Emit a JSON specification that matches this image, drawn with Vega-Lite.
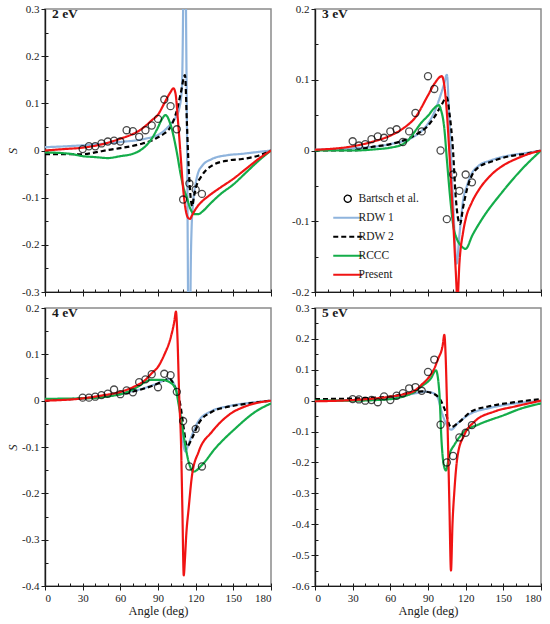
{
  "$schema": "https://vega.github.io/schema/vega-lite/v6.json",
  "padding": {"left": 5, "top": 2, "right": 5, "bottom": 4},
  "config": {
    "font": "Liberation Serif",
    "background": "white",
    "view": {"stroke": "#8a8a8a", "strokeWidth": 1.5},
    "axis": {
      "grid": false,
      "domain": true,
      "domainColor": "#1a1a1a",
      "domainWidth": 1.2,
      "labelFont": "Liberation Serif",
      "titleFont": "Liberation Serif",
      "labelFontSize": 11,
      "labelColor": "#1a1a1a",
      "tickColor": "#1a1a1a",
      "labelPadding": 2,
      "titleFontSize": 12.5,
      "titleFontWeight": "normal",
      "titleColor": "#1a1a1a"
    },
    "title": {"font": "Liberation Serif", "fontSize": 13.5, "fontWeight": "bold", "color": "#1a1a1a"}
  },
  "datasets": {
    "curves": [
      {"panel": "2 eV", "series": "RDW 1", "angle": 0, "S": 0.007},
      {"panel": "2 eV", "series": "RDW 1", "angle": 30, "S": 0.011},
      {"panel": "2 eV", "series": "RDW 1", "angle": 60, "S": 0.018},
      {"panel": "2 eV", "series": "RDW 1", "angle": 80, "S": 0.025},
      {"panel": "2 eV", "series": "RDW 1", "angle": 90, "S": 0.033},
      {"panel": "2 eV", "series": "RDW 1", "angle": 95, "S": 0.042},
      {"panel": "2 eV", "series": "RDW 1", "angle": 100, "S": 0.056},
      {"panel": "2 eV", "series": "RDW 1", "angle": 104, "S": 0.07},
      {"panel": "2 eV", "series": "RDW 1", "angle": 107, "S": 0.09},
      {"panel": "2 eV", "series": "RDW 1", "angle": 109, "S": 0.13},
      {"panel": "2 eV", "series": "RDW 1", "angle": 110, "S": 0.3},
      {"panel": "2 eV", "series": "RDW 1", "angle": 110.8, "S": 0.6},
      {"panel": "2 eV", "series": "RDW 1", "angle": 111.6, "S": 0.6},
      {"panel": "2 eV", "series": "RDW 1", "angle": 112.3, "S": 0.3},
      {"panel": "2 eV", "series": "RDW 1", "angle": 113.2, "S": 0},
      {"panel": "2 eV", "series": "RDW 1", "angle": 113.9, "S": -0.3},
      {"panel": "2 eV", "series": "RDW 1", "angle": 114.5, "S": -0.6},
      {"panel": "2 eV", "series": "RDW 1", "angle": 115.3, "S": -0.6},
      {"panel": "2 eV", "series": "RDW 1", "angle": 115.9, "S": -0.3},
      {"panel": "2 eV", "series": "RDW 1", "angle": 116.7, "S": -0.17},
      {"panel": "2 eV", "series": "RDW 1", "angle": 118, "S": -0.11},
      {"panel": "2 eV", "series": "RDW 1", "angle": 120, "S": -0.07},
      {"panel": "2 eV", "series": "RDW 1", "angle": 122, "S": -0.047},
      {"panel": "2 eV", "series": "RDW 1", "angle": 125, "S": -0.033},
      {"panel": "2 eV", "series": "RDW 1", "angle": 133, "S": -0.018},
      {"panel": "2 eV", "series": "RDW 1", "angle": 145, "S": -0.01},
      {"panel": "2 eV", "series": "RDW 1", "angle": 157, "S": -0.007},
      {"panel": "2 eV", "series": "RDW 1", "angle": 170, "S": -0.003},
      {"panel": "2 eV", "series": "RDW 1", "angle": 180, "S": 0},
      {"panel": "2 eV", "series": "RDW 2", "angle": 0, "S": -0.008},
      {"panel": "2 eV", "series": "RDW 2", "angle": 30, "S": -0.008},
      {"panel": "2 eV", "series": "RDW 2", "angle": 40, "S": -0.004},
      {"panel": "2 eV", "series": "RDW 2", "angle": 50, "S": 0.001},
      {"panel": "2 eV", "series": "RDW 2", "angle": 60, "S": 0.005},
      {"panel": "2 eV", "series": "RDW 2", "angle": 75, "S": 0.013},
      {"panel": "2 eV", "series": "RDW 2", "angle": 85, "S": 0.021},
      {"panel": "2 eV", "series": "RDW 2", "angle": 90, "S": 0.028},
      {"panel": "2 eV", "series": "RDW 2", "angle": 95, "S": 0.036},
      {"panel": "2 eV", "series": "RDW 2", "angle": 100, "S": 0.05},
      {"panel": "2 eV", "series": "RDW 2", "angle": 105, "S": 0.085},
      {"panel": "2 eV", "series": "RDW 2", "angle": 108, "S": 0.12},
      {"panel": "2 eV", "series": "RDW 2", "angle": 111.5, "S": 0.16},
      {"panel": "2 eV", "series": "RDW 2", "angle": 113, "S": 0.06},
      {"panel": "2 eV", "series": "RDW 2", "angle": 114.5, "S": -0.04},
      {"panel": "2 eV", "series": "RDW 2", "angle": 116, "S": -0.1},
      {"panel": "2 eV", "series": "RDW 2", "angle": 117.3, "S": -0.118},
      {"panel": "2 eV", "series": "RDW 2", "angle": 118.5, "S": -0.1},
      {"panel": "2 eV", "series": "RDW 2", "angle": 120, "S": -0.081},
      {"panel": "2 eV", "series": "RDW 2", "angle": 125, "S": -0.053},
      {"panel": "2 eV", "series": "RDW 2", "angle": 133, "S": -0.032},
      {"panel": "2 eV", "series": "RDW 2", "angle": 146, "S": -0.021},
      {"panel": "2 eV", "series": "RDW 2", "angle": 157, "S": -0.018},
      {"panel": "2 eV", "series": "RDW 2", "angle": 170, "S": -0.011},
      {"panel": "2 eV", "series": "RDW 2", "angle": 180, "S": 0},
      {"panel": "2 eV", "series": "RCCC", "angle": 0, "S": -0.004},
      {"panel": "2 eV", "series": "RCCC", "angle": 20, "S": -0.007},
      {"panel": "2 eV", "series": "RCCC", "angle": 30, "S": -0.012},
      {"panel": "2 eV", "series": "RCCC", "angle": 40, "S": -0.014},
      {"panel": "2 eV", "series": "RCCC", "angle": 50, "S": -0.016},
      {"panel": "2 eV", "series": "RCCC", "angle": 60, "S": -0.012},
      {"panel": "2 eV", "series": "RCCC", "angle": 70, "S": -0.007},
      {"panel": "2 eV", "series": "RCCC", "angle": 75, "S": -0.001},
      {"panel": "2 eV", "series": "RCCC", "angle": 80, "S": 0.009},
      {"panel": "2 eV", "series": "RCCC", "angle": 85, "S": 0.025},
      {"panel": "2 eV", "series": "RCCC", "angle": 90, "S": 0.049},
      {"panel": "2 eV", "series": "RCCC", "angle": 93, "S": 0.066},
      {"panel": "2 eV", "series": "RCCC", "angle": 96, "S": 0.075},
      {"panel": "2 eV", "series": "RCCC", "angle": 100, "S": 0.055},
      {"panel": "2 eV", "series": "RCCC", "angle": 105, "S": -0.004},
      {"panel": "2 eV", "series": "RCCC", "angle": 108, "S": -0.05},
      {"panel": "2 eV", "series": "RCCC", "angle": 110, "S": -0.075},
      {"panel": "2 eV", "series": "RCCC", "angle": 113, "S": -0.1},
      {"panel": "2 eV", "series": "RCCC", "angle": 116, "S": -0.125},
      {"panel": "2 eV", "series": "RCCC", "angle": 119, "S": -0.135},
      {"panel": "2 eV", "series": "RCCC", "angle": 122, "S": -0.135},
      {"panel": "2 eV", "series": "RCCC", "angle": 126, "S": -0.128},
      {"panel": "2 eV", "series": "RCCC", "angle": 130, "S": -0.117},
      {"panel": "2 eV", "series": "RCCC", "angle": 140, "S": -0.092},
      {"panel": "2 eV", "series": "RCCC", "angle": 150, "S": -0.072},
      {"panel": "2 eV", "series": "RCCC", "angle": 160, "S": -0.047},
      {"panel": "2 eV", "series": "RCCC", "angle": 170, "S": -0.022},
      {"panel": "2 eV", "series": "RCCC", "angle": 180, "S": 0},
      {"panel": "2 eV", "series": "Present", "angle": 0, "S": 0},
      {"panel": "2 eV", "series": "Present", "angle": 15, "S": 0.003},
      {"panel": "2 eV", "series": "Present", "angle": 30, "S": 0.006},
      {"panel": "2 eV", "series": "Present", "angle": 45, "S": 0.013},
      {"panel": "2 eV", "series": "Present", "angle": 60, "S": 0.025},
      {"panel": "2 eV", "series": "Present", "angle": 70, "S": 0.035},
      {"panel": "2 eV", "series": "Present", "angle": 75, "S": 0.042},
      {"panel": "2 eV", "series": "Present", "angle": 80, "S": 0.052},
      {"panel": "2 eV", "series": "Present", "angle": 85, "S": 0.064},
      {"panel": "2 eV", "series": "Present", "angle": 90, "S": 0.076},
      {"panel": "2 eV", "series": "Present", "angle": 95, "S": 0.1},
      {"panel": "2 eV", "series": "Present", "angle": 100, "S": 0.124},
      {"panel": "2 eV", "series": "Present", "angle": 102.3, "S": 0.132},
      {"panel": "2 eV", "series": "Present", "angle": 104, "S": 0.12},
      {"panel": "2 eV", "series": "Present", "angle": 106, "S": 0.06},
      {"panel": "2 eV", "series": "Present", "angle": 108, "S": -0.01},
      {"panel": "2 eV", "series": "Present", "angle": 110, "S": -0.08},
      {"panel": "2 eV", "series": "Present", "angle": 112, "S": -0.125},
      {"panel": "2 eV", "series": "Present", "angle": 114, "S": -0.143},
      {"panel": "2 eV", "series": "Present", "angle": 115.5, "S": -0.145},
      {"panel": "2 eV", "series": "Present", "angle": 117, "S": -0.138},
      {"panel": "2 eV", "series": "Present", "angle": 120, "S": -0.124},
      {"panel": "2 eV", "series": "Present", "angle": 125, "S": -0.108},
      {"panel": "2 eV", "series": "Present", "angle": 130, "S": -0.097},
      {"panel": "2 eV", "series": "Present", "angle": 140, "S": -0.078},
      {"panel": "2 eV", "series": "Present", "angle": 150, "S": -0.06},
      {"panel": "2 eV", "series": "Present", "angle": 160, "S": -0.039},
      {"panel": "2 eV", "series": "Present", "angle": 170, "S": -0.018},
      {"panel": "2 eV", "series": "Present", "angle": 180, "S": 0},

      {"panel": "3 eV", "series": "RDW 1", "angle": 0, "S": 0.001},
      {"panel": "3 eV", "series": "RDW 1", "angle": 30, "S": 0.003},
      {"panel": "3 eV", "series": "RDW 1", "angle": 60, "S": 0.009},
      {"panel": "3 eV", "series": "RDW 1", "angle": 80, "S": 0.021},
      {"panel": "3 eV", "series": "RDW 1", "angle": 90, "S": 0.038},
      {"panel": "3 eV", "series": "RDW 1", "angle": 95, "S": 0.054},
      {"panel": "3 eV", "series": "RDW 1", "angle": 100, "S": 0.078},
      {"panel": "3 eV", "series": "RDW 1", "angle": 103, "S": 0.095},
      {"panel": "3 eV", "series": "RDW 1", "angle": 105, "S": 0.107},
      {"panel": "3 eV", "series": "RDW 1", "angle": 107, "S": 0.045},
      {"panel": "3 eV", "series": "RDW 1", "angle": 110, "S": -0.073},
      {"panel": "3 eV", "series": "RDW 1", "angle": 112.8, "S": -0.16},
      {"panel": "3 eV", "series": "RDW 1", "angle": 115, "S": -0.12},
      {"panel": "3 eV", "series": "RDW 1", "angle": 118, "S": -0.07},
      {"panel": "3 eV", "series": "RDW 1", "angle": 121, "S": -0.05},
      {"panel": "3 eV", "series": "RDW 1", "angle": 125, "S": -0.032},
      {"panel": "3 eV", "series": "RDW 1", "angle": 130, "S": -0.022},
      {"panel": "3 eV", "series": "RDW 1", "angle": 140, "S": -0.014},
      {"panel": "3 eV", "series": "RDW 1", "angle": 155, "S": -0.007},
      {"panel": "3 eV", "series": "RDW 1", "angle": 170, "S": -0.003},
      {"panel": "3 eV", "series": "RDW 1", "angle": 180, "S": 0},
      {"panel": "3 eV", "series": "RDW 2", "angle": 0, "S": 0},
      {"panel": "3 eV", "series": "RDW 2", "angle": 30, "S": 0},
      {"panel": "3 eV", "series": "RDW 2", "angle": 45, "S": 0.005},
      {"panel": "3 eV", "series": "RDW 2", "angle": 60, "S": 0.009},
      {"panel": "3 eV", "series": "RDW 2", "angle": 70, "S": 0.014},
      {"panel": "3 eV", "series": "RDW 2", "angle": 80, "S": 0.022},
      {"panel": "3 eV", "series": "RDW 2", "angle": 90, "S": 0.035},
      {"panel": "3 eV", "series": "RDW 2", "angle": 95, "S": 0.047},
      {"panel": "3 eV", "series": "RDW 2", "angle": 100, "S": 0.062},
      {"panel": "3 eV", "series": "RDW 2", "angle": 105, "S": 0.075},
      {"panel": "3 eV", "series": "RDW 2", "angle": 107, "S": 0.054},
      {"panel": "3 eV", "series": "RDW 2", "angle": 110, "S": -0.002},
      {"panel": "3 eV", "series": "RDW 2", "angle": 112, "S": -0.064},
      {"panel": "3 eV", "series": "RDW 2", "angle": 115.5, "S": -0.104},
      {"panel": "3 eV", "series": "RDW 2", "angle": 118, "S": -0.08},
      {"panel": "3 eV", "series": "RDW 2", "angle": 121, "S": -0.055},
      {"panel": "3 eV", "series": "RDW 2", "angle": 125, "S": -0.035},
      {"panel": "3 eV", "series": "RDW 2", "angle": 130, "S": -0.024},
      {"panel": "3 eV", "series": "RDW 2", "angle": 140, "S": -0.016},
      {"panel": "3 eV", "series": "RDW 2", "angle": 155, "S": -0.008},
      {"panel": "3 eV", "series": "RDW 2", "angle": 170, "S": -0.004},
      {"panel": "3 eV", "series": "RDW 2", "angle": 180, "S": 0},
      {"panel": "3 eV", "series": "RCCC", "angle": 0, "S": 0},
      {"panel": "3 eV", "series": "RCCC", "angle": 30, "S": 0},
      {"panel": "3 eV", "series": "RCCC", "angle": 50, "S": 0.002},
      {"panel": "3 eV", "series": "RCCC", "angle": 60, "S": 0.004},
      {"panel": "3 eV", "series": "RCCC", "angle": 70, "S": 0.009},
      {"panel": "3 eV", "series": "RCCC", "angle": 75, "S": 0.016},
      {"panel": "3 eV", "series": "RCCC", "angle": 80, "S": 0.028},
      {"panel": "3 eV", "series": "RCCC", "angle": 85, "S": 0.04},
      {"panel": "3 eV", "series": "RCCC", "angle": 90, "S": 0.049},
      {"panel": "3 eV", "series": "RCCC", "angle": 95, "S": 0.06},
      {"panel": "3 eV", "series": "RCCC", "angle": 98.7, "S": 0.064},
      {"panel": "3 eV", "series": "RCCC", "angle": 100, "S": 0.059},
      {"panel": "3 eV", "series": "RCCC", "angle": 103, "S": 0.031},
      {"panel": "3 eV", "series": "RCCC", "angle": 105, "S": -0.012},
      {"panel": "3 eV", "series": "RCCC", "angle": 108, "S": -0.073},
      {"panel": "3 eV", "series": "RCCC", "angle": 110, "S": -0.105},
      {"panel": "3 eV", "series": "RCCC", "angle": 113, "S": -0.125},
      {"panel": "3 eV", "series": "RCCC", "angle": 116, "S": -0.134},
      {"panel": "3 eV", "series": "RCCC", "angle": 120, "S": -0.139},
      {"panel": "3 eV", "series": "RCCC", "angle": 125.3, "S": -0.12},
      {"panel": "3 eV", "series": "RCCC", "angle": 133, "S": -0.097},
      {"panel": "3 eV", "series": "RCCC", "angle": 149, "S": -0.059},
      {"panel": "3 eV", "series": "RCCC", "angle": 165, "S": -0.026},
      {"panel": "3 eV", "series": "RCCC", "angle": 180, "S": 0},
      {"panel": "3 eV", "series": "Present", "angle": 0, "S": 0.001},
      {"panel": "3 eV", "series": "Present", "angle": 30, "S": 0.006},
      {"panel": "3 eV", "series": "Present", "angle": 45, "S": 0.012},
      {"panel": "3 eV", "series": "Present", "angle": 60, "S": 0.021},
      {"panel": "3 eV", "series": "Present", "angle": 70, "S": 0.031},
      {"panel": "3 eV", "series": "Present", "angle": 80, "S": 0.047},
      {"panel": "3 eV", "series": "Present", "angle": 90, "S": 0.078},
      {"panel": "3 eV", "series": "Present", "angle": 95, "S": 0.094},
      {"panel": "3 eV", "series": "Present", "angle": 101, "S": 0.105},
      {"panel": "3 eV", "series": "Present", "angle": 103, "S": 0.092},
      {"panel": "3 eV", "series": "Present", "angle": 105, "S": 0.054},
      {"panel": "3 eV", "series": "Present", "angle": 107, "S": -0.002},
      {"panel": "3 eV", "series": "Present", "angle": 110, "S": -0.097},
      {"panel": "3 eV", "series": "Present", "angle": 112, "S": -0.167},
      {"panel": "3 eV", "series": "Present", "angle": 113.5, "S": -0.21},
      {"panel": "3 eV", "series": "Present", "angle": 115, "S": -0.16},
      {"panel": "3 eV", "series": "Present", "angle": 118, "S": -0.115},
      {"panel": "3 eV", "series": "Present", "angle": 120, "S": -0.097},
      {"panel": "3 eV", "series": "Present", "angle": 125, "S": -0.073},
      {"panel": "3 eV", "series": "Present", "angle": 130, "S": -0.057},
      {"panel": "3 eV", "series": "Present", "angle": 140, "S": -0.035},
      {"panel": "3 eV", "series": "Present", "angle": 150, "S": -0.021},
      {"panel": "3 eV", "series": "Present", "angle": 160, "S": -0.012},
      {"panel": "3 eV", "series": "Present", "angle": 170, "S": -0.005},
      {"panel": "3 eV", "series": "Present", "angle": 180, "S": 0},

      {"panel": "4 eV", "series": "RDW 1", "angle": 0, "S": 0.002},
      {"panel": "4 eV", "series": "RDW 1", "angle": 30, "S": 0.005},
      {"panel": "4 eV", "series": "RDW 1", "angle": 60, "S": 0.015},
      {"panel": "4 eV", "series": "RDW 1", "angle": 80, "S": 0.028},
      {"panel": "4 eV", "series": "RDW 1", "angle": 90, "S": 0.038},
      {"panel": "4 eV", "series": "RDW 1", "angle": 95, "S": 0.044},
      {"panel": "4 eV", "series": "RDW 1", "angle": 99, "S": 0.047},
      {"panel": "4 eV", "series": "RDW 1", "angle": 103, "S": 0.035},
      {"panel": "4 eV", "series": "RDW 1", "angle": 105, "S": 0.02},
      {"panel": "4 eV", "series": "RDW 1", "angle": 107, "S": -0.005},
      {"panel": "4 eV", "series": "RDW 1", "angle": 109, "S": -0.06},
      {"panel": "4 eV", "series": "RDW 1", "angle": 110.5, "S": -0.1},
      {"panel": "4 eV", "series": "RDW 1", "angle": 112, "S": -0.11},
      {"panel": "4 eV", "series": "RDW 1", "angle": 113.5, "S": -0.1},
      {"panel": "4 eV", "series": "RDW 1", "angle": 117, "S": -0.075},
      {"panel": "4 eV", "series": "RDW 1", "angle": 122, "S": -0.045},
      {"panel": "4 eV", "series": "RDW 1", "angle": 133, "S": -0.022},
      {"panel": "4 eV", "series": "RDW 1", "angle": 146, "S": -0.012},
      {"panel": "4 eV", "series": "RDW 1", "angle": 162, "S": -0.005},
      {"panel": "4 eV", "series": "RDW 1", "angle": 180, "S": 0},
      {"panel": "4 eV", "series": "RDW 2", "angle": 0, "S": 0.001},
      {"panel": "4 eV", "series": "RDW 2", "angle": 30, "S": 0.005},
      {"panel": "4 eV", "series": "RDW 2", "angle": 60, "S": 0.014},
      {"panel": "4 eV", "series": "RDW 2", "angle": 80, "S": 0.027},
      {"panel": "4 eV", "series": "RDW 2", "angle": 90, "S": 0.037},
      {"panel": "4 eV", "series": "RDW 2", "angle": 95, "S": 0.044},
      {"panel": "4 eV", "series": "RDW 2", "angle": 99, "S": 0.047},
      {"panel": "4 eV", "series": "RDW 2", "angle": 103.8, "S": 0.027},
      {"panel": "4 eV", "series": "RDW 2", "angle": 107.8, "S": -0.009},
      {"panel": "4 eV", "series": "RDW 2", "angle": 110.5, "S": -0.06},
      {"panel": "4 eV", "series": "RDW 2", "angle": 113.1, "S": -0.099},
      {"panel": "4 eV", "series": "RDW 2", "angle": 117.1, "S": -0.081},
      {"panel": "4 eV", "series": "RDW 2", "angle": 122.4, "S": -0.049},
      {"panel": "4 eV", "series": "RDW 2", "angle": 133, "S": -0.024},
      {"panel": "4 eV", "series": "RDW 2", "angle": 146.3, "S": -0.013},
      {"panel": "4 eV", "series": "RDW 2", "angle": 162, "S": -0.006},
      {"panel": "4 eV", "series": "RDW 2", "angle": 180, "S": 0},
      {"panel": "4 eV", "series": "RCCC", "angle": 0, "S": 0.004},
      {"panel": "4 eV", "series": "RCCC", "angle": 30, "S": 0.005},
      {"panel": "4 eV", "series": "RCCC", "angle": 60, "S": 0.014},
      {"panel": "4 eV", "series": "RCCC", "angle": 75, "S": 0.032},
      {"panel": "4 eV", "series": "RCCC", "angle": 80, "S": 0.041},
      {"panel": "4 eV", "series": "RCCC", "angle": 85, "S": 0.045},
      {"panel": "4 eV", "series": "RCCC", "angle": 93, "S": 0.045},
      {"panel": "4 eV", "series": "RCCC", "angle": 98.5, "S": 0.041},
      {"panel": "4 eV", "series": "RCCC", "angle": 103.8, "S": 0.027},
      {"panel": "4 eV", "series": "RCCC", "angle": 106.5, "S": -0.009},
      {"panel": "4 eV", "series": "RCCC", "angle": 109.1, "S": -0.053},
      {"panel": "4 eV", "series": "RCCC", "angle": 111.7, "S": -0.096},
      {"panel": "4 eV", "series": "RCCC", "angle": 114.4, "S": -0.132},
      {"panel": "4 eV", "series": "RCCC", "angle": 118.4, "S": -0.153},
      {"panel": "4 eV", "series": "RCCC", "angle": 125, "S": -0.139},
      {"panel": "4 eV", "series": "RCCC", "angle": 135.6, "S": -0.103},
      {"panel": "4 eV", "series": "RCCC", "angle": 151.6, "S": -0.06},
      {"panel": "4 eV", "series": "RCCC", "angle": 167.5, "S": -0.024},
      {"panel": "4 eV", "series": "RCCC", "angle": 180, "S": -0.006},
      {"panel": "4 eV", "series": "Present", "angle": 0, "S": 0},
      {"panel": "4 eV", "series": "Present", "angle": 30, "S": 0.005},
      {"panel": "4 eV", "series": "Present", "angle": 45, "S": 0.011},
      {"panel": "4 eV", "series": "Present", "angle": 60, "S": 0.019},
      {"panel": "4 eV", "series": "Present", "angle": 70, "S": 0.029},
      {"panel": "4 eV", "series": "Present", "angle": 80, "S": 0.045},
      {"panel": "4 eV", "series": "Present", "angle": 85, "S": 0.059},
      {"panel": "4 eV", "series": "Present", "angle": 90, "S": 0.073},
      {"panel": "4 eV", "series": "Present", "angle": 95, "S": 0.099},
      {"panel": "4 eV", "series": "Present", "angle": 100, "S": 0.135},
      {"panel": "4 eV", "series": "Present", "angle": 103, "S": 0.171},
      {"panel": "4 eV", "series": "Present", "angle": 104.3, "S": 0.192},
      {"panel": "4 eV", "series": "Present", "angle": 105.3, "S": 0.15},
      {"panel": "4 eV", "series": "Present", "angle": 107, "S": 0},
      {"panel": "4 eV", "series": "Present", "angle": 108.3, "S": -0.088},
      {"panel": "4 eV", "series": "Present", "angle": 109.4, "S": -0.232},
      {"panel": "4 eV", "series": "Present", "angle": 110.5, "S": -0.377},
      {"panel": "4 eV", "series": "Present", "angle": 111.5, "S": -0.34},
      {"panel": "4 eV", "series": "Present", "angle": 112.5, "S": -0.29},
      {"panel": "4 eV", "series": "Present", "angle": 114.4, "S": -0.233},
      {"panel": "4 eV", "series": "Present", "angle": 117.1, "S": -0.161},
      {"panel": "4 eV", "series": "Present", "angle": 122.4, "S": -0.11},
      {"panel": "4 eV", "series": "Present", "angle": 133, "S": -0.067},
      {"panel": "4 eV", "series": "Present", "angle": 146.3, "S": -0.031},
      {"panel": "4 eV", "series": "Present", "angle": 162, "S": -0.01},
      {"panel": "4 eV", "series": "Present", "angle": 180, "S": 0},

      {"panel": "5 eV", "series": "RDW 1", "angle": 0, "S": 0},
      {"panel": "5 eV", "series": "RDW 1", "angle": 30, "S": 0.002},
      {"panel": "5 eV", "series": "RDW 1", "angle": 60, "S": 0.007},
      {"panel": "5 eV", "series": "RDW 1", "angle": 80, "S": 0.024},
      {"panel": "5 eV", "series": "RDW 1", "angle": 88, "S": 0.029},
      {"panel": "5 eV", "series": "RDW 1", "angle": 93, "S": 0.026},
      {"panel": "5 eV", "series": "RDW 1", "angle": 96, "S": 0.02},
      {"panel": "5 eV", "series": "RDW 1", "angle": 98, "S": 0.008},
      {"panel": "5 eV", "series": "RDW 1", "angle": 100.8, "S": -0.035},
      {"panel": "5 eV", "series": "RDW 1", "angle": 104.3, "S": -0.073},
      {"panel": "5 eV", "series": "RDW 1", "angle": 108.3, "S": -0.094},
      {"panel": "5 eV", "series": "RDW 1", "angle": 113.7, "S": -0.073},
      {"panel": "5 eV", "series": "RDW 1", "angle": 124.4, "S": -0.041},
      {"panel": "5 eV", "series": "RDW 1", "angle": 137.8, "S": -0.025},
      {"panel": "5 eV", "series": "RDW 1", "angle": 159, "S": -0.009},
      {"panel": "5 eV", "series": "RDW 1", "angle": 180, "S": -0.001},
      {"panel": "5 eV", "series": "RDW 2", "angle": 0, "S": 0.005},
      {"panel": "5 eV", "series": "RDW 2", "angle": 30, "S": 0.007},
      {"panel": "5 eV", "series": "RDW 2", "angle": 60, "S": 0.013},
      {"panel": "5 eV", "series": "RDW 2", "angle": 75, "S": 0.025},
      {"panel": "5 eV", "series": "RDW 2", "angle": 85, "S": 0.03},
      {"panel": "5 eV", "series": "RDW 2", "angle": 92, "S": 0.026},
      {"panel": "5 eV", "series": "RDW 2", "angle": 99, "S": 0.008},
      {"panel": "5 eV", "series": "RDW 2", "angle": 103, "S": -0.025},
      {"panel": "5 eV", "series": "RDW 2", "angle": 108.3, "S": -0.086},
      {"panel": "5 eV", "series": "RDW 2", "angle": 113.7, "S": -0.073},
      {"panel": "5 eV", "series": "RDW 2", "angle": 124.4, "S": -0.035},
      {"panel": "5 eV", "series": "RDW 2", "angle": 137.8, "S": -0.019},
      {"panel": "5 eV", "series": "RDW 2", "angle": 159, "S": -0.005},
      {"panel": "5 eV", "series": "RDW 2", "angle": 180, "S": 0.005},
      {"panel": "5 eV", "series": "RCCC", "angle": 0, "S": 0},
      {"panel": "5 eV", "series": "RCCC", "angle": 30, "S": 0},
      {"panel": "5 eV", "series": "RCCC", "angle": 60, "S": 0.005},
      {"panel": "5 eV", "series": "RCCC", "angle": 70, "S": 0.013},
      {"panel": "5 eV", "series": "RCCC", "angle": 80, "S": 0.031},
      {"panel": "5 eV", "series": "RCCC", "angle": 84.3, "S": 0.045},
      {"panel": "5 eV", "series": "RCCC", "angle": 92.3, "S": 0.072},
      {"panel": "5 eV", "series": "RCCC", "angle": 96.3, "S": 0.098},
      {"panel": "5 eV", "series": "RCCC", "angle": 99, "S": 0.029},
      {"panel": "5 eV", "series": "RCCC", "angle": 100.8, "S": -0.132},
      {"panel": "5 eV", "series": "RCCC", "angle": 102.5, "S": -0.207},
      {"panel": "5 eV", "series": "RCCC", "angle": 104.3, "S": -0.226},
      {"panel": "5 eV", "series": "RCCC", "angle": 107, "S": -0.175},
      {"panel": "5 eV", "series": "RCCC", "angle": 111, "S": -0.143},
      {"panel": "5 eV", "series": "RCCC", "angle": 119, "S": -0.1},
      {"panel": "5 eV", "series": "RCCC", "angle": 129.8, "S": -0.078},
      {"panel": "5 eV", "series": "RCCC", "angle": 151, "S": -0.046},
      {"panel": "5 eV", "series": "RCCC", "angle": 164.5, "S": -0.025},
      {"panel": "5 eV", "series": "RCCC", "angle": 180, "S": -0.009},
      {"panel": "5 eV", "series": "Present", "angle": 0, "S": -0.002},
      {"panel": "5 eV", "series": "Present", "angle": 30, "S": 0.002},
      {"panel": "5 eV", "series": "Present", "angle": 60, "S": 0.013},
      {"panel": "5 eV", "series": "Present", "angle": 70, "S": 0.02},
      {"panel": "5 eV", "series": "Present", "angle": 80, "S": 0.034},
      {"panel": "5 eV", "series": "Present", "angle": 85, "S": 0.052},
      {"panel": "5 eV", "series": "Present", "angle": 90, "S": 0.072},
      {"panel": "5 eV", "series": "Present", "angle": 95, "S": 0.104},
      {"panel": "5 eV", "series": "Present", "angle": 98, "S": 0.135},
      {"panel": "5 eV", "series": "Present", "angle": 101.7, "S": 0.179},
      {"panel": "5 eV", "series": "Present", "angle": 103, "S": 0.213},
      {"panel": "5 eV", "series": "Present", "angle": 104, "S": 0.15},
      {"panel": "5 eV", "series": "Present", "angle": 105, "S": 0.01},
      {"panel": "5 eV", "series": "Present", "angle": 106, "S": -0.15},
      {"panel": "5 eV", "series": "Present", "angle": 107, "S": -0.33},
      {"panel": "5 eV", "series": "Present", "angle": 108.3, "S": -0.55},
      {"panel": "5 eV", "series": "Present", "angle": 109.5, "S": -0.4},
      {"panel": "5 eV", "series": "Present", "angle": 111, "S": -0.293},
      {"panel": "5 eV", "series": "Present", "angle": 113.7, "S": -0.175},
      {"panel": "5 eV", "series": "Present", "angle": 119, "S": -0.11},
      {"panel": "5 eV", "series": "Present", "angle": 127, "S": -0.068},
      {"panel": "5 eV", "series": "Present", "angle": 143, "S": -0.035},
      {"panel": "5 eV", "series": "Present", "angle": 159, "S": -0.019},
      {"panel": "5 eV", "series": "Present", "angle": 180, "S": 0}
    ],
    "bartsch": [
      {"panel": "2 eV", "series": "Bartsch et al.", "angle": 30, "S": 0.003},
      {"panel": "2 eV", "series": "Bartsch et al.", "angle": 35, "S": 0.009},
      {"panel": "2 eV", "series": "Bartsch et al.", "angle": 40, "S": 0.009},
      {"panel": "2 eV", "series": "Bartsch et al.", "angle": 45, "S": 0.015},
      {"panel": "2 eV", "series": "Bartsch et al.", "angle": 50, "S": 0.019},
      {"panel": "2 eV", "series": "Bartsch et al.", "angle": 55, "S": 0.021},
      {"panel": "2 eV", "series": "Bartsch et al.", "angle": 60, "S": 0.019},
      {"panel": "2 eV", "series": "Bartsch et al.", "angle": 65, "S": 0.043},
      {"panel": "2 eV", "series": "Bartsch et al.", "angle": 70, "S": 0.041},
      {"panel": "2 eV", "series": "Bartsch et al.", "angle": 75, "S": 0.029},
      {"panel": "2 eV", "series": "Bartsch et al.", "angle": 80, "S": 0.043},
      {"panel": "2 eV", "series": "Bartsch et al.", "angle": 85, "S": 0.053},
      {"panel": "2 eV", "series": "Bartsch et al.", "angle": 90, "S": 0.067},
      {"panel": "2 eV", "series": "Bartsch et al.", "angle": 95, "S": 0.108},
      {"panel": "2 eV", "series": "Bartsch et al.", "angle": 100, "S": 0.094},
      {"panel": "2 eV", "series": "Bartsch et al.", "angle": 105, "S": 0.045},
      {"panel": "2 eV", "series": "Bartsch et al.", "angle": 110, "S": -0.104},
      {"panel": "2 eV", "series": "Bartsch et al.", "angle": 115, "S": -0.07},
      {"panel": "2 eV", "series": "Bartsch et al.", "angle": 120, "S": -0.083},
      {"panel": "2 eV", "series": "Bartsch et al.", "angle": 125, "S": -0.092},
      {"panel": "3 eV", "series": "Bartsch et al.", "angle": 30, "S": 0.013},
      {"panel": "3 eV", "series": "Bartsch et al.", "angle": 35, "S": 0.007},
      {"panel": "3 eV", "series": "Bartsch et al.", "angle": 40, "S": 0.009},
      {"panel": "3 eV", "series": "Bartsch et al.", "angle": 45, "S": 0.016},
      {"panel": "3 eV", "series": "Bartsch et al.", "angle": 50, "S": 0.02},
      {"panel": "3 eV", "series": "Bartsch et al.", "angle": 55, "S": 0.018},
      {"panel": "3 eV", "series": "Bartsch et al.", "angle": 60, "S": 0.027},
      {"panel": "3 eV", "series": "Bartsch et al.", "angle": 65, "S": 0.03},
      {"panel": "3 eV", "series": "Bartsch et al.", "angle": 70, "S": 0.012},
      {"panel": "3 eV", "series": "Bartsch et al.", "angle": 75, "S": 0.027},
      {"panel": "3 eV", "series": "Bartsch et al.", "angle": 80, "S": 0.053},
      {"panel": "3 eV", "series": "Bartsch et al.", "angle": 85, "S": 0.027},
      {"panel": "3 eV", "series": "Bartsch et al.", "angle": 90, "S": 0.105},
      {"panel": "3 eV", "series": "Bartsch et al.", "angle": 95, "S": 0.087},
      {"panel": "3 eV", "series": "Bartsch et al.", "angle": 100, "S": 0},
      {"panel": "3 eV", "series": "Bartsch et al.", "angle": 105, "S": -0.097},
      {"panel": "3 eV", "series": "Bartsch et al.", "angle": 110, "S": -0.034},
      {"panel": "3 eV", "series": "Bartsch et al.", "angle": 115, "S": -0.057},
      {"panel": "3 eV", "series": "Bartsch et al.", "angle": 120, "S": -0.034},
      {"panel": "3 eV", "series": "Bartsch et al.", "angle": 125, "S": -0.045},
      {"panel": "4 eV", "series": "Bartsch et al.", "angle": 30, "S": 0.0065},
      {"panel": "4 eV", "series": "Bartsch et al.", "angle": 35, "S": 0.0065},
      {"panel": "4 eV", "series": "Bartsch et al.", "angle": 40, "S": 0.0086},
      {"panel": "4 eV", "series": "Bartsch et al.", "angle": 45, "S": 0.012},
      {"panel": "4 eV", "series": "Bartsch et al.", "angle": 50, "S": 0.015},
      {"panel": "4 eV", "series": "Bartsch et al.", "angle": 55, "S": 0.024},
      {"panel": "4 eV", "series": "Bartsch et al.", "angle": 60, "S": 0.014},
      {"panel": "4 eV", "series": "Bartsch et al.", "angle": 65, "S": 0.022},
      {"panel": "4 eV", "series": "Bartsch et al.", "angle": 70, "S": 0.018},
      {"panel": "4 eV", "series": "Bartsch et al.", "angle": 75, "S": 0.04},
      {"panel": "4 eV", "series": "Bartsch et al.", "angle": 80, "S": 0.046},
      {"panel": "4 eV", "series": "Bartsch et al.", "angle": 85, "S": 0.057},
      {"panel": "4 eV", "series": "Bartsch et al.", "angle": 90, "S": 0.029},
      {"panel": "4 eV", "series": "Bartsch et al.", "angle": 95, "S": 0.058},
      {"panel": "4 eV", "series": "Bartsch et al.", "angle": 100, "S": 0.055},
      {"panel": "4 eV", "series": "Bartsch et al.", "angle": 105, "S": 0.019},
      {"panel": "4 eV", "series": "Bartsch et al.", "angle": 110, "S": -0.044},
      {"panel": "4 eV", "series": "Bartsch et al.", "angle": 115, "S": -0.142},
      {"panel": "4 eV", "series": "Bartsch et al.", "angle": 120, "S": -0.061},
      {"panel": "4 eV", "series": "Bartsch et al.", "angle": 125, "S": -0.142},
      {"panel": "5 eV", "series": "Bartsch et al.", "angle": 30, "S": 0.005},
      {"panel": "5 eV", "series": "Bartsch et al.", "angle": 35, "S": 0.004},
      {"panel": "5 eV", "series": "Bartsch et al.", "angle": 40, "S": 0},
      {"panel": "5 eV", "series": "Bartsch et al.", "angle": 45, "S": 0.002},
      {"panel": "5 eV", "series": "Bartsch et al.", "angle": 50, "S": -0.005},
      {"panel": "5 eV", "series": "Bartsch et al.", "angle": 55, "S": 0.014},
      {"panel": "5 eV", "series": "Bartsch et al.", "angle": 60, "S": 0.002},
      {"panel": "5 eV", "series": "Bartsch et al.", "angle": 65, "S": 0.016},
      {"panel": "5 eV", "series": "Bartsch et al.", "angle": 70, "S": 0.024},
      {"panel": "5 eV", "series": "Bartsch et al.", "angle": 75, "S": 0.04},
      {"panel": "5 eV", "series": "Bartsch et al.", "angle": 80, "S": 0.044},
      {"panel": "5 eV", "series": "Bartsch et al.", "angle": 85, "S": 0.032},
      {"panel": "5 eV", "series": "Bartsch et al.", "angle": 90, "S": 0.093},
      {"panel": "5 eV", "series": "Bartsch et al.", "angle": 95, "S": 0.133},
      {"panel": "5 eV", "series": "Bartsch et al.", "angle": 100, "S": -0.078},
      {"panel": "5 eV", "series": "Bartsch et al.", "angle": 105, "S": -0.2},
      {"panel": "5 eV", "series": "Bartsch et al.", "angle": 110, "S": -0.179},
      {"panel": "5 eV", "series": "Bartsch et al.", "angle": 115, "S": -0.119},
      {"panel": "5 eV", "series": "Bartsch et al.", "angle": 120, "S": -0.104},
      {"panel": "5 eV", "series": "Bartsch et al.", "angle": 125, "S": -0.079}
    ]
  },
  "columns": 2,
  "spacing": {"row": 3, "column": 17},
  "resolve": {"scale": {"x": "independent", "y": "independent", "color": "independent", "strokeDash": "independent"}},
  "concat": [
    {
      "width": 226,
      "height": 283,
      "title": {"text": "2 eV", "anchor": "start", "frame": "group", "offset": -17, "dx": 7},
      "layer": [
        {
          "data": {"name": "curves"},
          "transform": [{"filter": "datum.panel == '2 eV'"}],
          "mark": {"type": "line", "strokeWidth": 2.2, "clip": true, "interpolate": "monotone"},
          "encoding": {
            "x": {"field": "angle", "type": "quantitative", "scale": {"domain": [0, 180], "nice": false},
              "axis": {"orient": "bottom", "values": [0, 10, 20, 30, 40, 50, 60, 70, 80, 90, 100, 110, 120, 130, 140, 150, 160, 170, 180], "labels": false, "tickSize": -3, "title": null}},
            "y": {"field": "S", "type": "quantitative", "scale": {"domain": [-0.3, 0.3], "nice": false, "zero": false},
              "axis": {"orient": "left", "values": [-0.25, -0.2, -0.15, -0.1, -0.05, 0, 0.05, 0.1, 0.15, 0.2, 0.25], "labels": false, "tickSize": -3, "title": null}},
            "color": {"field": "series", "type": "nominal", "legend": null,
              "scale": {"domain": ["Bartsch et al.", "RDW 1", "RDW 2", "RCCC", "Present"], "range": ["#000000", "#8fb4dd", "#000000", "#14ad4a", "#f01414"]}},
            "strokeDash": {"field": "series", "type": "nominal", "legend": null,
              "scale": {"domain": ["Bartsch et al.", "RDW 1", "RDW 2", "RCCC", "Present"], "range": [[1, 0], [1, 0], [5, 3], [1, 0], [1, 0]]}}
          }
        },
        {
          "data": {"name": "bartsch"},
          "transform": [{"filter": "datum.panel == '2 eV'"}],
          "mark": {"type": "point", "shape": "circle", "filled": false, "size": 50, "strokeWidth": 1.3, "clip": true},
          "encoding": {
            "x": {"field": "angle", "type": "quantitative", "axis": {"orient": "bottom", "values": [0, 30, 60, 90, 120, 150, 180], "labels": false, "tickSize": 4, "title": null}},
            "y": {"field": "S", "type": "quantitative",
              "axis": {"orient": "left", "values": [-0.3, -0.2, -0.1, 0, 0.1, 0.2, 0.3], "labelExpr": "toString(datum.value)", "tickSize": 4, "title": "S", "titleFontStyle": "italic", "titlePadding": 2}},
            "color": {"field": "series", "type": "nominal", "legend": null}
          }
        }
      ],
      "resolve": {"axis": {"x": "independent", "y": "independent"}}
    },
    {
      "width": 226,
      "height": 283,
      "title": {"text": "3 eV", "anchor": "start", "frame": "group", "offset": -17, "dx": 7},
      "layer": [
        {
          "data": {"name": "curves"},
          "transform": [{"filter": "datum.panel == '3 eV'"}],
          "mark": {"type": "line", "strokeWidth": 2.2, "clip": true, "interpolate": "monotone"},
          "encoding": {
            "x": {"field": "angle", "type": "quantitative", "scale": {"domain": [0, 180], "nice": false},
              "axis": {"orient": "bottom", "values": [0, 10, 20, 30, 40, 50, 60, 70, 80, 90, 100, 110, 120, 130, 140, 150, 160, 170, 180], "labels": false, "tickSize": -3, "title": null}},
            "y": {"field": "S", "type": "quantitative", "scale": {"domain": [-0.2, 0.2], "nice": false, "zero": false},
              "axis": {"orient": "left", "values": [-0.15, -0.1, -0.05, 0, 0.05, 0.1, 0.15], "labels": false, "tickSize": -3, "title": null}},
            "color": {"field": "series", "type": "nominal",
              "scale": {"domain": ["Bartsch et al.", "RDW 1", "RDW 2", "RCCC", "Present"], "range": ["#000000", "#8fb4dd", "#000000", "#14ad4a", "#f01414"]},
              "legend": {
                "orient": "none", "legendX": 27, "legendY": 184, "title": null,
                "labelFont": "Liberation Serif", "labelFontSize": 11.5, "labelColor": "#1a1a1a", "labelOffset": 5,
                "symbolSize": 841, "symbolType": "stroke", "symbolStrokeWidth": 2.2, "rowPadding": 6,
                "encode": {"symbols": {"update": {
                  "shape": {"signal": "datum.value == 'Bartsch et al.' ? 'circle' : 'stroke'"},
                  "size": {"signal": "datum.value == 'Bartsch et al.' ? 50 : 841"},
                  "strokeDash": {"signal": "datum.value == 'RDW 2' ? [5, 3] : [1, 0]"},
                  "strokeWidth": {"signal": "datum.value == 'Bartsch et al.' ? 1.3 : 2.2"},
                  "fill": {"value": "transparent"}
                }}}
              }},
            "strokeDash": {"field": "series", "type": "nominal", "legend": null,
              "scale": {"domain": ["Bartsch et al.", "RDW 1", "RDW 2", "RCCC", "Present"], "range": [[1, 0], [1, 0], [5, 3], [1, 0], [1, 0]]}}
          }
        },
        {
          "data": {"name": "bartsch"},
          "transform": [{"filter": "datum.panel == '3 eV'"}],
          "mark": {"type": "point", "shape": "circle", "filled": false, "size": 50, "strokeWidth": 1.3, "clip": true},
          "encoding": {
            "x": {"field": "angle", "type": "quantitative", "axis": {"orient": "bottom", "values": [0, 30, 60, 90, 120, 150, 180], "labels": false, "tickSize": 4, "title": null}},
            "y": {"field": "S", "type": "quantitative",
              "axis": {"orient": "left", "values": [-0.2, -0.1, 0, 0.1, 0.2], "labelExpr": "toString(datum.value)", "tickSize": 4, "title": null}},
            "color": {"field": "series", "type": "nominal"}
          }
        }
      ],
      "resolve": {"axis": {"x": "independent", "y": "independent"}}
    },
    {
      "width": 226,
      "height": 278,
      "title": {"text": "4 eV", "anchor": "start", "frame": "group", "offset": -17, "dx": 7},
      "layer": [
        {
          "data": {"name": "curves"},
          "transform": [{"filter": "datum.panel == '4 eV'"}],
          "mark": {"type": "line", "strokeWidth": 2.2, "clip": true, "interpolate": "monotone"},
          "encoding": {
            "x": {"field": "angle", "type": "quantitative", "scale": {"domain": [0, 180], "nice": false},
              "axis": {"orient": "bottom", "values": [0, 10, 20, 30, 40, 50, 60, 70, 80, 90, 100, 110, 120, 130, 140, 150, 160, 170, 180], "labels": false, "tickSize": -3, "title": null}},
            "y": {"field": "S", "type": "quantitative", "scale": {"domain": [-0.4, 0.2], "nice": false, "zero": false},
              "axis": {"orient": "left", "values": [-0.35, -0.3, -0.25, -0.2, -0.15, -0.1, -0.05, 0, 0.05, 0.1, 0.15], "labels": false, "tickSize": -3, "title": null}},
            "color": {"field": "series", "type": "nominal", "legend": null,
              "scale": {"domain": ["Bartsch et al.", "RDW 1", "RDW 2", "RCCC", "Present"], "range": ["#000000", "#8fb4dd", "#000000", "#14ad4a", "#f01414"]}},
            "strokeDash": {"field": "series", "type": "nominal", "legend": null,
              "scale": {"domain": ["Bartsch et al.", "RDW 1", "RDW 2", "RCCC", "Present"], "range": [[1, 0], [1, 0], [5, 3], [1, 0], [1, 0]]}}
          }
        },
        {
          "data": {"name": "bartsch"},
          "transform": [{"filter": "datum.panel == '4 eV'"}],
          "mark": {"type": "point", "shape": "circle", "filled": false, "size": 50, "strokeWidth": 1.3, "clip": true},
          "encoding": {
            "x": {"field": "angle", "type": "quantitative", "axis": {"orient": "bottom", "values": [0, 30, 60, 90, 120, 150, 180], "tickSize": 4, "title": "Angle (deg)", "titlePadding": 1}},
            "y": {"field": "S", "type": "quantitative",
              "axis": {"orient": "left", "values": [-0.4, -0.3, -0.2, -0.1, 0, 0.1, 0.2], "labelExpr": "toString(datum.value)", "tickSize": 4, "title": "S", "titleFontStyle": "italic", "titlePadding": 2}},
            "color": {"field": "series", "type": "nominal", "legend": null}
          }
        }
      ],
      "resolve": {"axis": {"x": "independent", "y": "independent"}}
    },
    {
      "width": 226,
      "height": 278,
      "title": {"text": "5 eV", "anchor": "start", "frame": "group", "offset": -17, "dx": 7},
      "layer": [
        {
          "data": {"name": "curves"},
          "transform": [{"filter": "datum.panel == '5 eV'"}],
          "mark": {"type": "line", "strokeWidth": 2.2, "clip": true, "interpolate": "monotone"},
          "encoding": {
            "x": {"field": "angle", "type": "quantitative", "scale": {"domain": [0, 180], "nice": false},
              "axis": {"orient": "bottom", "values": [0, 10, 20, 30, 40, 50, 60, 70, 80, 90, 100, 110, 120, 130, 140, 150, 160, 170, 180], "labels": false, "tickSize": -3, "title": null}},
            "y": {"field": "S", "type": "quantitative", "scale": {"domain": [-0.6, 0.3], "nice": false, "zero": false},
              "axis": {"orient": "left", "values": [-0.55, -0.5, -0.45, -0.4, -0.35, -0.3, -0.25, -0.2, -0.15, -0.1, -0.05, 0, 0.05, 0.1, 0.15, 0.2, 0.25], "labels": false, "tickSize": -3, "title": null}},
            "color": {"field": "series", "type": "nominal", "legend": null,
              "scale": {"domain": ["Bartsch et al.", "RDW 1", "RDW 2", "RCCC", "Present"], "range": ["#000000", "#8fb4dd", "#000000", "#14ad4a", "#f01414"]}},
            "strokeDash": {"field": "series", "type": "nominal", "legend": null,
              "scale": {"domain": ["Bartsch et al.", "RDW 1", "RDW 2", "RCCC", "Present"], "range": [[1, 0], [1, 0], [5, 3], [1, 0], [1, 0]]}}
          }
        },
        {
          "data": {"name": "bartsch"},
          "transform": [{"filter": "datum.panel == '5 eV'"}],
          "mark": {"type": "point", "shape": "circle", "filled": false, "size": 50, "strokeWidth": 1.3, "clip": true},
          "encoding": {
            "x": {"field": "angle", "type": "quantitative", "axis": {"orient": "bottom", "values": [0, 30, 60, 90, 120, 150, 180], "tickSize": 4, "title": "Angle (deg)", "titlePadding": 1}},
            "y": {"field": "S", "type": "quantitative",
              "axis": {"orient": "left", "values": [-0.6, -0.5, -0.4, -0.3, -0.2, -0.1, 0, 0.1, 0.2, 0.3], "labelExpr": "toString(datum.value)", "tickSize": 4, "title": null}},
            "color": {"field": "series", "type": "nominal", "legend": null}
          }
        }
      ],
      "resolve": {"axis": {"x": "independent", "y": "independent"}}
    }
  ]
}
